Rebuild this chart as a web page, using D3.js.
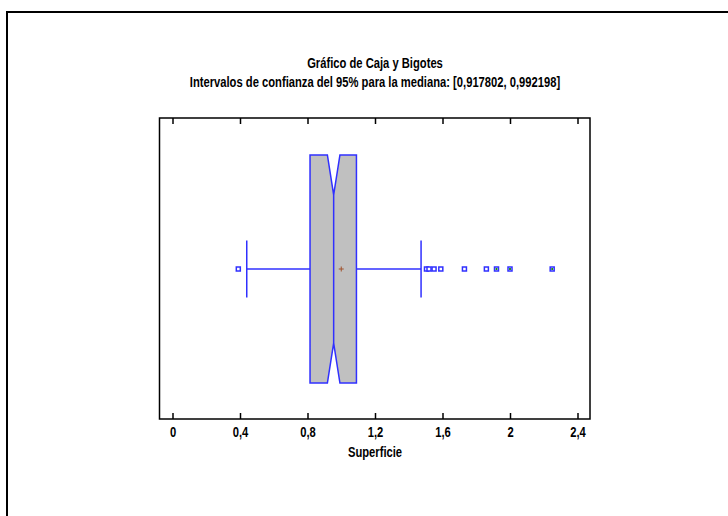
<!DOCTYPE html>
<html>
<head>
<meta charset="utf-8">
<script src="https://cdn.jsdelivr.net/npm/d3@7"></script>
<style>
  body { margin: 0; background: white; }
  svg { display: block; }
  .lbl { font-family: "Liberation Sans", Arial, sans-serif; font-weight: bold; }
</style>
</head>
<body>
<svg id="chart" width="728" height="516"></svg>
<script>
  // values
  let quartiles = [0.815, 0.955, 1.09]      // Q1, mediana, Q3
  let notchCI = [0.917802, 0.992198]        // intervalo de confianza de la mediana
  let whiskers = [0.44, 1.473]
  let meanValue = 1.0
  let outliers = [0.39, 1.505, 1.52, 1.55, 1.59, 1.73, 1.86, 1.92, 2.0, 2.25]
  let xTicks = [0, 0.4, 0.8, 1.2, 1.6, 2, 2.4]
  let titleLines = ["Gráfico de Caja y Bigotes", "Intervalos de confianza del 95% para la mediana: [0,917802, 0,992198]"]
  let xTitle = "Superficie"

  let svg = d3.select("#chart")
  let frame = { left: 159.5, right: 590, top: 118, bottom: 419 }

  let locale = d3.formatLocale({ decimal: ",", thousands: ".", grouping: [3], currency: ["", "€"] })
  let fmt = locale.format("~g")

  let x = d3.scaleLinear().domain([0, 2.4]).range([172.5, 577.5])
  let y = d3.scaleLinear().domain([-1, 1]).range([383, 155])

  // outer window border
  svg.append("rect")
    .attr("x", 7).attr("y", 12).attr("width", 800).attr("height", 600)
    .attr("fill", "white").attr("stroke", "#000").attr("stroke-width", 2)

  // titles
  svg.selectAll(".title").data(titleLines).enter().append("text")
    .attr("class", "lbl")
    .attr("x", 375).attr("y", (d, i) => 67.5 + i * 19)
    .attr("text-anchor", "middle")
    .attr("font-size", 14)
    .text(d => d)

  // axes
  let axisB = d3.axisBottom(x).tickValues(xTicks).tickSize(-6).tickPadding(8).tickFormat(fmt)
  let gB = svg.append("g").attr("transform", `translate(0,${frame.bottom})`).call(axisB)
  gB.select(".domain").remove()
  gB.selectAll("text").attr("class", "lbl").attr("font-size", 14).attr("fill", "#000")
  gB.selectAll("line").attr("stroke", "#000").attr("stroke-width", 1.5)

  let axisT = d3.axisTop(x).tickValues(xTicks).tickSize(-6).tickFormat("")
  let gT = svg.append("g").attr("transform", `translate(0,${frame.top})`).call(axisT)
  gT.select(".domain").remove()
  gT.selectAll("line").attr("stroke", "#000").attr("stroke-width", 1.5)

  svg.append("text").attr("class", "lbl")
    .attr("x", 375).attr("y", 456.5).attr("text-anchor", "middle").attr("font-size", 14)
    .text(xTitle)

  // the original uses a narrow font: squeeze every label horizontally
  svg.selectAll("text.lbl").each(function() {
    let w = this.getComputedTextLength()
    d3.select(this).attr("textLength", w * 0.8).attr("lengthAdjust", "spacingAndGlyphs")
  })

  // plot frame
  svg.append("rect")
    .attr("x", frame.left).attr("y", frame.top)
    .attr("width", frame.right - frame.left).attr("height", frame.bottom - frame.top)
    .attr("fill", "none").attr("stroke", "#000").attr("stroke-width", 1.5)

  let blue = "#3030ff"
  let g = svg.append("g")

  // whiskers
  g.append("line")
    .attr("x1", x(whiskers[0])).attr("x2", x(quartiles[0]))
    .attr("y1", y(0)).attr("y2", y(0))
    .attr("stroke", blue).attr("stroke-width", 1.5)
  g.append("line")
    .attr("x1", x(quartiles[2])).attr("x2", x(whiskers[1]))
    .attr("y1", y(0)).attr("y2", y(0))
    .attr("stroke", blue).attr("stroke-width", 1.5)
  g.selectAll(".cap").data(whiskers).enter().append("line")
    .attr("x1", d => x(d)).attr("x2", d => x(d))
    .attr("y1", y(0.25)).attr("y2", y(-0.25))
    .attr("stroke", blue).attr("stroke-width", 1.5)

  // notched box
  let notchDepth = 0.35
  let pts = [
    [quartiles[0], 1], [notchCI[0], 1], [quartiles[1], 1 - notchDepth], [notchCI[1], 1], [quartiles[2], 1],
    [quartiles[2], -1], [notchCI[1], -1], [quartiles[1], -1 + notchDepth], [notchCI[0], -1], [quartiles[0], -1]
  ]
  g.append("path")
    .attr("d", d3.line().x(d => x(d[0])).y(d => y(d[1]))(pts) + "Z")
    .attr("fill", "#c0c0c0").attr("stroke", blue).attr("stroke-width", 1.5)
    .attr("stroke-linejoin", "miter")
  g.append("line")
    .attr("x1", x(quartiles[1])).attr("x2", x(quartiles[1]))
    .attr("y1", y(1 - notchDepth)).attr("y2", y(-1 + notchDepth))
    .attr("stroke", blue).attr("stroke-width", 1.5)

  // mean
  g.append("path")
    .attr("d", `M${x(meanValue) - 2.5},${y(0)}h5M${x(meanValue)},${y(0) - 2.5}v5`)
    .attr("stroke", "#a0522d").attr("stroke-width", 1)

  // outliers (far ones beyond Q3 + 3*IQR get a green mark)
  let iqr = quartiles[2] - quartiles[0]
  let farLimit = quartiles[2] + 3 * iqr
  let pt = g.selectAll(".out").data(outliers).enter().append("g")
    .attr("transform", d => `translate(${x(d)},${y(0)})`)
  pt.append("rect")
    .attr("x", -2).attr("y", -2).attr("width", 4).attr("height", 4)
    .attr("fill", "white").attr("stroke", blue).attr("stroke-width", 1.5)
  pt.filter(d => d > farLimit).append("path")
    .attr("d", "M-1,0h2M0,-1v2")
    .attr("stroke", "#1a8a1a").attr("stroke-width", 1.5)
</script>
</body>
</html>
